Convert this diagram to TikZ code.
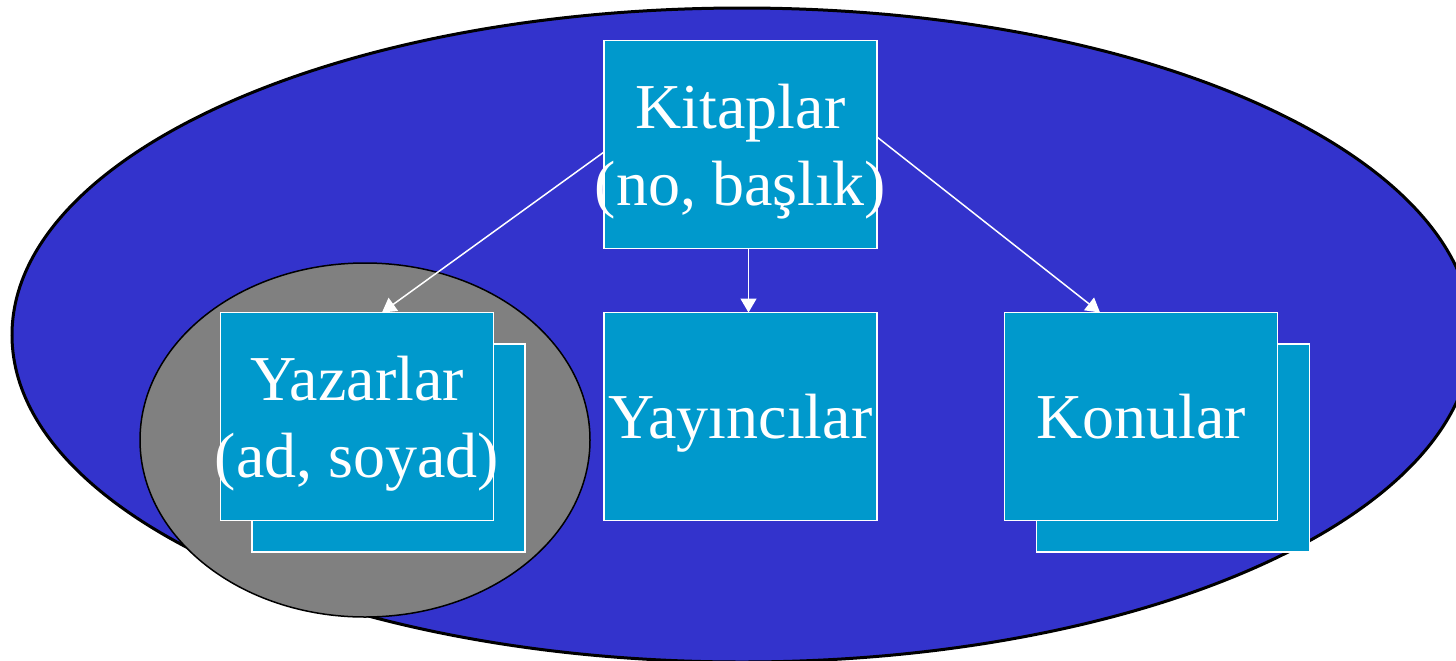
\documentclass[tikz,border=0pt]{standalone}
\usepackage{fontspec}
\setmainfont{Liberation Serif}
\usetikzlibrary{arrows.meta}
\definecolor{bigblue}{HTML}{3333CC}
\definecolor{boxblue}{HTML}{0099CC}
\definecolor{greyfill}{HTML}{808080}
\tikzset{
  entbox/.style={draw=white, line width=0.75pt, fill=boxblue, minimum width=136.5pt, minimum height=104pt, inner sep=0pt, outer sep=0pt},
  txt/.style={text=white, align=center, font=\fontsize{32}{38.5}\selectfont, inner sep=0pt},
  arr/.style={draw=white, line width=0.75pt, -{Triangle[length=7pt,width=8pt]}},
}
\begin{document}
\begin{tikzpicture}[x=0.5pt,y=-0.5pt]
\useasboundingbox (0,0) rectangle (1456,660);
% big ellipse
\draw[fill=bigblue, draw=black, line width=1.5pt] (742,335) ellipse [x radius=365pt, y radius=163.5pt];
% grey ellipse
\draw[fill=greyfill, draw=black, line width=0.75pt] (365,440) ellipse [x radius=112.5pt, y radius=88.5pt];
% back boxes
\node[entbox] (yazb) at (388.5,448) {};
\node[entbox] (konb) at (1173,448) {};
% front boxes
\node[entbox, label={[txt, yshift=-3.75pt]center:Kitaplar\\(no, başlık)}] (kit) at (740.5,144.5) {};
\node[entbox, label={[txt, yshift=-3.75pt]center:Yazarlar\\(ad, soyad)}] (yaz) at (357,416.5) {};
\node[entbox, label={[txt, text depth=0pt]center:Yayıncılar}] (yay) at (740.5,416.5) {};
\node[entbox, label={[txt, text depth=0pt]center:Konular}] (kon) at (1141,416.5) {};
% connectors
\draw[arr] ([yshift=-3.75pt]kit.west) -- ([xshift=12.5pt]yaz.north);
\draw[arr] ([xshift=4pt]kit.south) -- ([xshift=4pt]yay.north);
\draw[arr] ([yshift=3.75pt]kit.east) -- ([xshift=-20.5pt]kon.north);
\end{tikzpicture}
\end{document}
